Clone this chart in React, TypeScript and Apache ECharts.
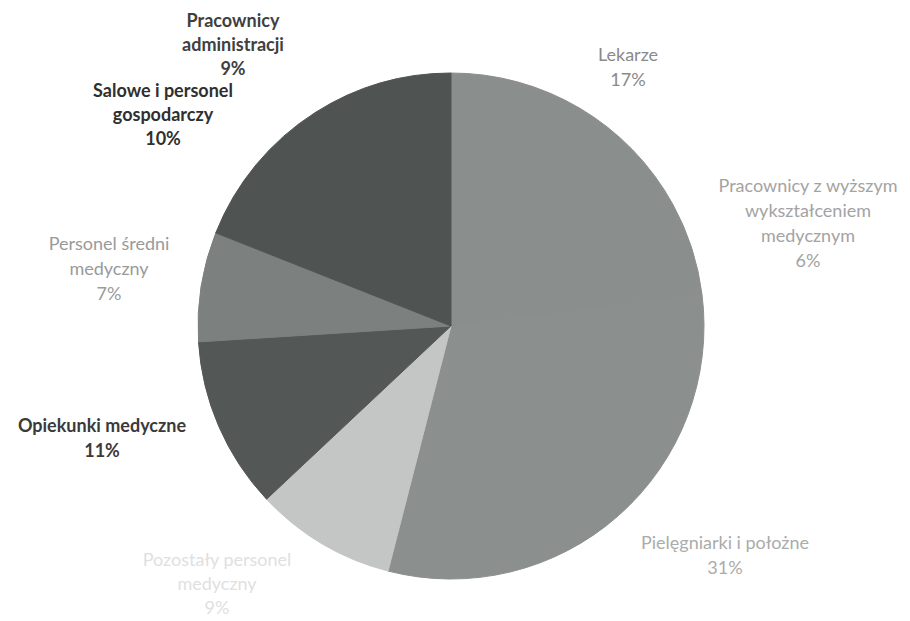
import React, { useEffect, useRef } from "react";
import * as echarts from "echarts";

// Categories (clockwise from 12 o'clock) and their shares in %
const categories: string[] = [
  "Lekarze",
  "Pracownicy z wyższym\nwykształceniem\nmedycznym",
  "Pielęgniarki i położne",
  "Pozostały personel\nmedyczny",
  "Opiekunki medyczne",
  "Personel średni\nmedyczny",
  "Salowe i personel\ngospodarczy",
  "Pracownicy\nadministracji",
];
const shares: number[] = [17, 6, 31, 9, 11, 7, 10, 9];

// Styles (layout / appearance only)
const sliceColors = ["#8a8e8c", "#8a8e8c", "#8b8f8d", "#c3c6c4", "#535856", "#7c817f", "#4f5452", "#4f5452"];
const labelColors = ["#8a8a8a", "#a3a3a3", "#ababab", "#e0e0e0", "#3a3a3a", "#9a9a9a", "#2f2f2f", "#404040"];
const labelWeights = [400, 400, 400, 400, 700, 400, 700, 700];
const labelLineHeights = [25, 25, 25, 24, 25, 25, 24, 24];
const labelCenters: [number, number][] = [
  [628, 66],
  [808, 222],
  [725, 554],
  [217, 583],
  [102, 437],
  [109, 268],
  [163, 114],
  [233, 44],
];

export default function App() {
  const ref = useRef<HTMLDivElement>(null);
  useEffect(() => {
    if (!ref.current) return;
    const chart = echarts.init(ref.current, undefined, { renderer: "svg" });
    chart.setOption({
      animation: false,
      backgroundColor: "#ffffff",
      series: [
        {
          type: "pie",
          center: [451, 326],
          radius: 253,
          startAngle: 90,
          clockwise: true,
          avoidLabelOverlap: false,
          data: categories.map((name, i) => ({
            name,
            value: shares[i],
            itemStyle: { color: sliceColors[i], borderColor: sliceColors[i], borderWidth: 1 },
            label: {
              color: labelColors[i],
              fontWeight: labelWeights[i],
              lineHeight: labelLineHeights[i],
            },
          })),
          label: {
            show: true,
            position: "outside",
            formatter: (p: any) => `${p.name}\n${Math.round(p.percent)}%`,
            fontFamily: "Lato",
            fontSize: 18,
            lineHeight: 25,
            align: "center",
          },
          labelLine: { show: false },
          labelLayout: (params: any) => {
            const c = labelCenters[params.dataIndex];
            return { x: c[0], y: c[1], align: "center", verticalAlign: "middle" };
          },
        },
      ],
    });
    return () => chart.dispose();
  }, []);
  return (
    <div
      ref={ref}
      style={{ position: "fixed", left: 0, top: 0, width: 910, height: 621 }}
    />
  );
}
